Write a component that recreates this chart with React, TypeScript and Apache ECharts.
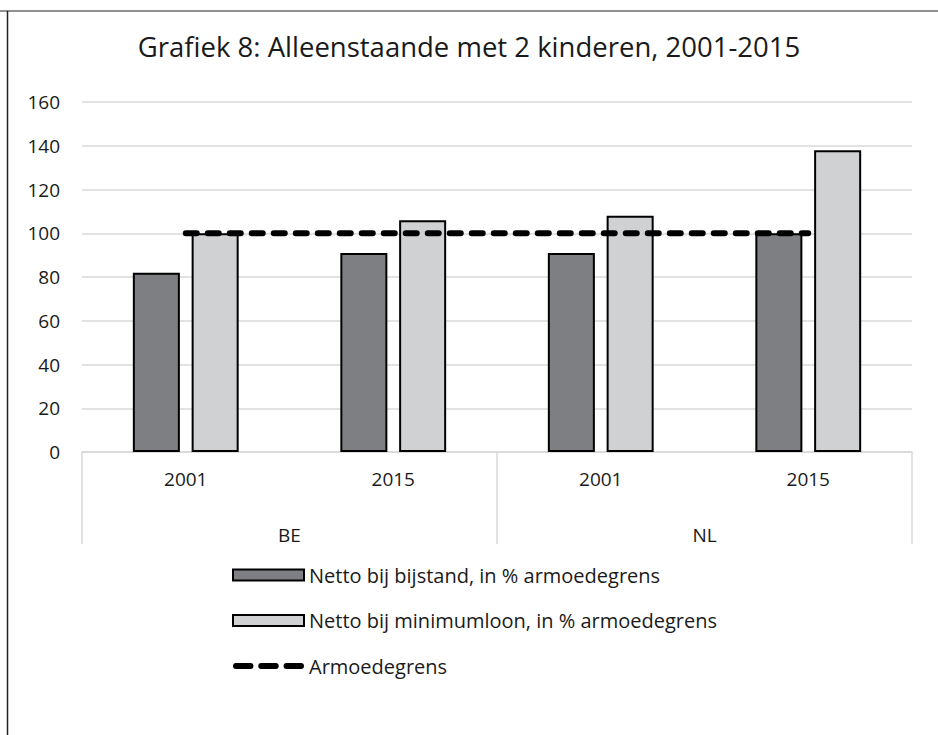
import React, { useEffect, useRef } from "react";
import * as echarts from "echarts";

const years = ["2001", "2015", "2001", "2015"];
const countries = ["BE", "NL"];
const bijstand = [82, 91, 91, 100];
const minimumloon = [100, 106, 108, 138];
const armoedegrens = [100, 100, 100, 100];
const seriesNames = [
  "Netto bij bijstand, in % armoedegrens",
  "Netto bij minimumloon, in % armoedegrens",
  "Armoedegrens",
];
const titleText = "Grafiek 8: Alleenstaande met 2 kinderen, 2001-2015";

const FONT = "'Open Sans', 'Noto Sans', sans-serif";
const TXT = "#1a1a1a";
const DASH_ICON =
  "path://M3,0 h15 a3,3 0 0 1 0,6 h-15 a3,3 0 0 1 0,-6 Z M29,0 h15 a3,3 0 0 1 0,6 h-15 a3,3 0 0 1 0,-6 Z M55,0 h15 a3,3 0 0 1 0,6 h-15 a3,3 0 0 1 0,-6 Z";

export default function App() {
  const ref = useRef<HTMLDivElement>(null);
  useEffect(() => {
    if (!ref.current) return;
    const chart = echarts.init(ref.current, undefined, { renderer: "svg" });
    chart.setOption({
      animation: false,
      backgroundColor: "#ffffff",
      textStyle: { fontFamily: FONT, color: TXT },
      title: {
        text: titleText,
        left: "center",
        top: 27,
        textStyle: { fontFamily: FONT, fontSize: 27.5, fontWeight: "normal", color: TXT },
      },
      grid: { left: 82, right: 26, top: 102, bottom: 283, containLabel: false },
      xAxis: [
        {
          type: "category",
          data: years,
          position: "bottom",
          axisLine: { show: true, lineStyle: { color: "#d9d9d9", width: 1.5 } },
          axisTick: { show: false },
          axisLabel: { margin: 17, fontSize: 19, color: TXT, fontFamily: FONT },
          splitLine: { show: false },
        },
        {
          type: "category",
          data: countries,
          position: "bottom",
          axisLine: { show: false },
          axisTick: { show: true, length: 92, lineStyle: { color: "#d9d9d9", width: 1.5 } },
          axisLabel: { margin: 73, fontSize: 19, color: TXT, fontFamily: FONT },
          splitLine: { show: false },
        },
      ],
      yAxis: {
        type: "value",
        min: 0,
        max: 160,
        interval: 20,
        axisLine: { show: false },
        axisTick: { show: false },
        axisLabel: { margin: 22, fontSize: 19, color: TXT, fontFamily: FONT },
        splitLine: { show: true, lineStyle: { color: "#d9d9d9", width: 1.5 } },
      },
      legend: {
        orient: "vertical",
        left: 232,
        top: 565,
        padding: 0,
        itemWidth: 71,
        itemHeight: 11,
        itemGap: 25.5,
        textStyle: { fontSize: 20, color: TXT, fontFamily: FONT, lineHeight: 20 },
        data: [
          { name: seriesNames[0], icon: "rect" },
          { name: seriesNames[1], icon: "rect" },
          { name: seriesNames[2], icon: DASH_ICON, itemStyle: { color: "#000", borderWidth: 0 } },
        ],
      },
      series: [
        {
          name: seriesNames[0],
          type: "bar",
          xAxisIndex: 0,
          data: bijstand,
          barGap: "25%",
          barCategoryGap: "49%",
          itemStyle: { color: "#7e7f83", borderColor: "#000", borderWidth: 2 },
        },
        {
          name: seriesNames[1],
          type: "bar",
          xAxisIndex: 0,
          data: minimumloon,
          itemStyle: { color: "#d0d1d3", borderColor: "#000", borderWidth: 2 },
        },
        {
          name: seriesNames[2],
          type: "line",
          xAxisIndex: 0,
          data: armoedegrens,
          symbol: "none",
          z: 5,
          itemStyle: { color: "#000" },
          lineStyle: { color: "#000", width: 6, type: [11, 11], cap: "round" },
        },
      ],
      graphic: [
        {
          type: "line",
          shape: { x1: 0, y1: 11, x2: 938, y2: 11 },
          style: { stroke: "#909090", lineWidth: 2 },
          silent: true,
        },
        {
          type: "line",
          shape: { x1: 7.5, y1: 11, x2: 7.5, y2: 735 },
          style: { stroke: "#222", lineWidth: 1.5 },
          silent: true,
        },
      ],
    });
    return () => chart.dispose();
  }, []);
  return (
    <div
      ref={ref}
      style={{ position: "fixed", left: 0, top: 0, width: 938, height: 735 }}
    />
  );
}
